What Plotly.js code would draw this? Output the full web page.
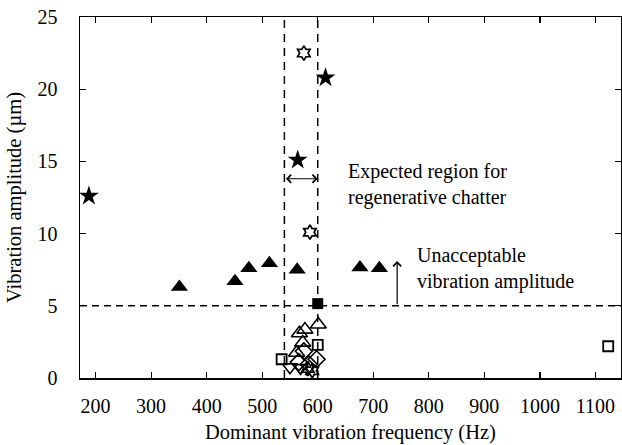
<!DOCTYPE html>
<html><head><meta charset="utf-8">
<script src="https://cdn.plot.ly/plotly-3.0.1.min.js"></script>
<style>body{margin:0;background:#fff}#c{width:622px;height:445px}</style>
</head><body><div id="c"></div>
<script>
// Filled stars
const starX = [188, 564, 614];
const starY = [12.6, 15.1, 20.8];
// Open hexagrams
const hexX = [575, 586, 590, 582];
const hexY = [22.5, 10.1, 0.5, 0.65];
// Filled triangles
const triX = [351, 451, 476, 513, 563, 676, 711];
const triY = [6.3, 6.7, 7.6, 7.95, 7.5, 7.65, 7.6];
// Filled square
const sqFX = [600];
const sqFY = [5.15];
// Open squares
const sqOX = [600, 535, 1123];
const sqOY = [2.3, 1.3, 2.2];
// Open triangles up
const triOX = [601, 577, 567, 573, 562];
const triOY = [3.7, 3.35, 3.1, 2.45, 1.75];
// Open diamonds
const diaX = [575, 598, 566, 584];
const diaY = [1.85, 1.3, 1.1, 0.95];
// Open triangles down
const triDX = [550, 569];
const triDY = [0.75, 0.7];

const k = '#000';
function tr(x, y, sym, size, lw) {
  return {x: x, y: y, type: 'scatter', mode: 'markers', hoverinfo: 'skip',
    marker: {symbol: sym, size: size, color: k, line: {color: k, width: lw}}};
}
const data = [
  tr(triOX, triOY, 'triangle-up-open', 14, 1.6),
  tr(diaX, diaY, 'diamond-open', 13, 1.6),
  tr(triDX, triDY, 'triangle-down-open', 13, 1.6),
  tr(sqOX, sqOY, 'square-open', 10, 1.8),
  tr(hexX, hexY, 'hexagram-open', 11, 1.7),
  tr(starX, starY, 'star', 15, 0),
  tr(triX, triY, 'triangle-up', 15, 0),
  tr(sqFX, sqFY, 'square', 11, 0)
];
const font = {family: 'Liberation Serif', size: 20, color: '#000'};
const tfont = {family: 'Liberation Serif', size: 20.5, color: '#000'};
const axisCommon = {showgrid: false, zeroline: false, showline: true, linecolor: k, linewidth: 1.5,
  mirror: 'ticks', ticks: 'inside', ticklen: 6, tickwidth: 1.2, tickcolor: k, tickfont: font};
const layout = {
  width: 622, height: 445,
  margin: {l: 80, r: 1, t: 17, b: 67},
  paper_bgcolor: '#fff', plot_bgcolor: '#fff',
  showlegend: false, font: font,
  xaxis: Object.assign({}, axisCommon, {range: [172, 1146], tickvals: [200,300,400,500,600,700,800,900,1000,1100],
    ticklabelstandoff: 9, title: {text: 'Dominant vibration frequency (Hz)', font: tfont, standoff: 9}}),
  yaxis: Object.assign({}, axisCommon, {range: [0, 25], dtick: 5, ticklabelstandoff: 17,
    title: {text: 'Vibration amplitude (µm)', font: tfont, standoff: 10}}),
  shapes: [
    {type: 'line', xref: 'x', yref: 'y', x0: 540, x1: 540, y0: 0, y1: 25, line: {color: k, width: 1.5, dash: '8px,6px'}},
    {type: 'line', xref: 'x', yref: 'y', x0: 600, x1: 600, y0: 0, y1: 25, line: {color: k, width: 1.5, dash: '8px,6px'}},
    {type: 'line', xref: 'paper', yref: 'y', x0: 0, x1: 1, y0: 5, y1: 5, line: {color: k, width: 1.5, dash: '7px,5px'}}
  ],
  annotations: [
    {x: 600, y: 13.8, ax: 540, ay: 13.8, xref: 'x', yref: 'y', axref: 'x', ayref: 'y', text: '',
      showarrow: true, arrowside: 'end+start', arrowhead: 4, arrowsize: 1.3, arrowwidth: 1.2, arrowcolor: k, standoff: 0, startstandoff: 0},
    {x: 743, y: 8.1, ax: 743, ay: 5, xref: 'x', yref: 'y', axref: 'x', ayref: 'y', text: '',
      showarrow: true, arrowhead: 4, arrowsize: 1.3, arrowwidth: 1.2, arrowcolor: k, standoff: 0},
    {x: 650, y: 13.4, xref: 'x', yref: 'y', xanchor: 'left', yanchor: 'middle', align: 'left', showarrow: false,
      text: 'Expected region for<br>regenerative chatter', font: font},
    {x: 776, y: 7.6, xref: 'x', yref: 'y', xanchor: 'left', yanchor: 'middle', align: 'left', showarrow: false,
      text: 'Unacceptable<br>vibration amplitude', font: font}
  ]
};
Plotly.newPlot('c', data, layout, {staticPlot: true, displayModeBar: false});
</script></body></html>
